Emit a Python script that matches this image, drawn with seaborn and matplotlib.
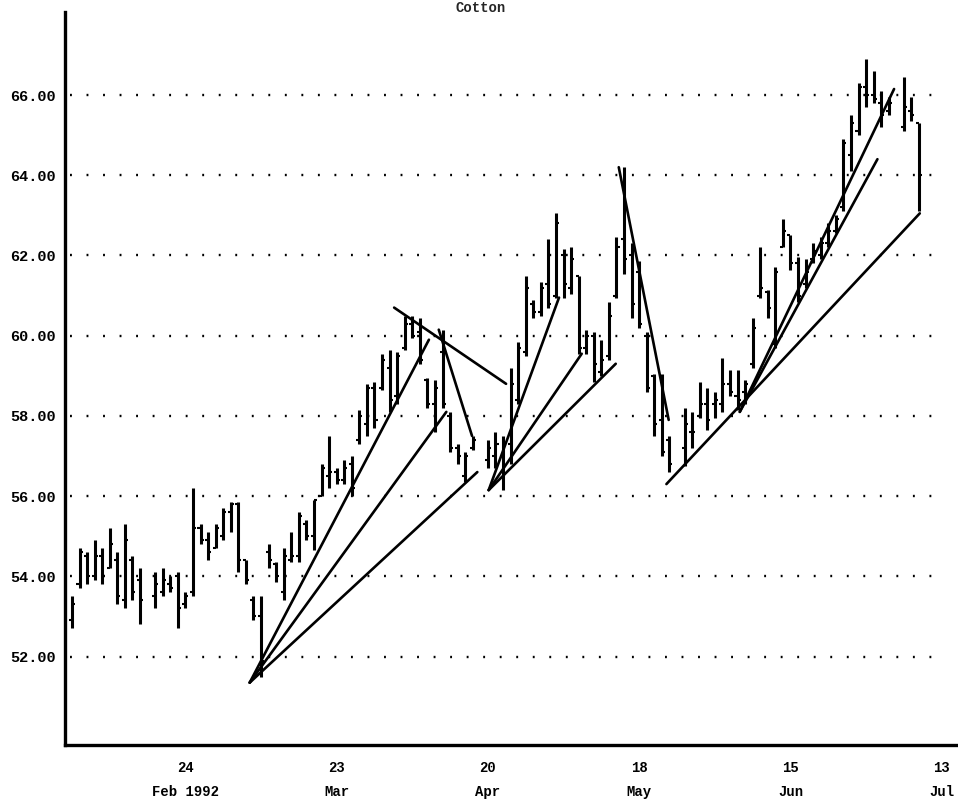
"""
Daily cotton futures bar chart, Feb - Jul 1992, with hand-drawn trend lines.
"""
import matplotlib

matplotlib.use("Agg")
import matplotlib.pyplot as plt
import numpy as np
import pandas as pd
import seaborn as sns

nan = np.nan

# one entry per trading day starting Mon 3 Feb 1992 (nan = exchange closed)
OPEN = [
    52.9, 53.8, 54.5, 54.0, 54.5, 54.2, 54.4, 53.4, 54.4, 53.9,
    nan, 53.5, 53.6, 53.8, 54.0, 53.3, 53.6, 55.2, 54.9, 54.7,
    55.0, 55.6, 55.8, 54.4, 53.4, 53.0, 54.6, 54.3, 53.6, 54.4,
    54.5, 55.3, 55.0, 56.0, 56.5, 56.6, 56.4, 56.8, 57.4, 57.8,
    58.7, 58.7, 59.2, 58.5, 59.7, 60.3, 60.1, 58.9, 58.3, 59.6,
    58.0, 57.2, 56.5, 57.2, nan, 56.9, 57.0, 57.0, 57.3, 58.4,
    59.6, 60.8, 60.6, 61.3, 61.0, 62.0, 61.2, 61.5, 59.7, 60.0,
    59.1, 59.5, 61.0, 62.4, 62.0, 61.6, 60.0, 59.0, 57.9, 57.4,
    nan, 57.2, 57.6, 58.0, 58.3, 58.3, 58.3, 58.8, 58.5, 58.6,
    59.3, 61.0, 61.1, 59.8, 62.2, 62.5, 61.8, 61.3, 61.9, 62.0,
    62.3, 62.6, 63.2, 64.5, 65.1, 66.2, 66.0, 65.8, 65.6, nan,
    65.2, 65.6, 65.3,
]
HIGH = [
    53.5, 54.7, 54.6, 54.9, 54.7, 55.2, 54.6, 55.3, 54.5, 54.2,
    nan, 54.1, 54.2, 54.0, 54.1, 53.6, 56.2, 55.3, 55.1, 55.3,
    55.7, 55.85, 55.85, 54.4, 53.5, 53.5, 54.8, 54.35, 54.7, 55.1,
    55.6, 55.4, 55.9, 56.8, 57.5, 56.7, 56.9, 57.0, 58.15, 58.8,
    58.85, 59.55, 59.65, 59.6, 60.5, 60.5, 60.45, 58.95, 58.9, 60.15,
    58.1, 57.3, 57.1, 57.5, nan, 57.4, 57.6, 57.5, 59.2, 59.85,
    61.5, 60.9, 61.35, 62.4, 63.05, 62.15, 62.2, 61.5, 60.15, 60.1,
    59.9, 60.85, 62.45, 64.2, 62.3, 61.85, 60.1, 59.05, 59.05, 57.5,
    nan, 58.2, 58.1, 58.85, 58.7, 58.6, 59.45, 59.15, 59.15, 58.9,
    60.45, 62.2, 61.15, 61.7, 62.9, 62.5, 61.95, 61.9, 62.3, 62.45,
    62.8, 63.0, 64.9, 65.5, 66.3, 66.9, 66.6, 66.1, 65.95, nan,
    66.45, 65.95, 65.3,
]
LOW = [
    52.7, 53.7, 53.8, 53.9, 53.8, 54.2, 53.3, 53.2, 53.4, 52.8,
    nan, 53.2, 53.5, 53.6, 52.7, 53.2, 53.5, 54.8, 54.4, 54.7,
    54.9, 55.1, 54.1, 53.8, 52.9, 51.5, 54.2, 53.85, 53.4, 54.35,
    54.35, 54.9, 54.65, 56.0, 56.2, 56.3, 56.3, 56.0, 57.3, 57.5,
    57.7, 58.65, 58.1, 58.3, 59.65, 59.95, 59.3, 58.2, 57.6, 58.2,
    57.1, 56.8, 56.35, 57.15, nan, 56.7, 56.7, 56.15, 56.8, 58.3,
    59.5, 60.45, 60.5, 60.7, 60.95, 60.95, 61.05, 59.55, 59.55, 58.85,
    59.0, 59.4, 60.95, 61.55, 60.45, 60.2, 58.6, 57.5, 57.0, 56.6,
    nan, 56.75, 57.2, 57.95, 57.65, 57.95, 58.1, 58.5, 58.15, 58.3,
    59.2, 60.95, 60.45, 59.7, 62.2, 61.65, 60.85, 61.2, 61.8, 61.9,
    62.2, 62.55, 63.1, 64.1, 65.0, 65.7, 65.8, 65.2, 65.5, nan,
    65.1, 65.35, 63.1,
]
CLOSE = [
    53.3, 54.6, 54.0, 54.5, 54.0, 54.8, 53.5, 54.9, 53.6, 53.4,
    nan, 53.8, 53.9, 53.7, 53.2, 53.5, 55.2, 54.9, 54.6, 55.2,
    55.6, 55.8, 54.4, 53.9, 53.0, 51.9, 54.4, 54.0, 54.5, 54.5,
    55.5, 55.0, 55.9, 56.7, 56.6, 56.4, 56.7, 56.2, 58.0, 58.7,
    57.9, 59.4, 58.4, 59.5, 60.3, 60.0, 59.4, 58.3, 58.7, 58.3,
    57.2, 57.0, 57.0, 57.4, nan, 57.2, 57.3, 57.3, 58.8, 59.7,
    61.2, 60.6, 61.2, 60.8, 62.8, 61.3, 61.9, 59.7, 60.0, 59.3,
    59.4, 60.5, 62.2, 61.9, 60.8, 60.3, 58.7, 57.8, 57.1, 56.8,
    nan, 57.8, 57.6, 58.3, 57.9, 58.4, 58.8, 58.6, 58.4, 58.8,
    60.2, 61.2, 60.7, 61.6, 62.6, 61.8, 61.0, 61.6, 62.1, 62.3,
    62.6, 62.9, 64.8, 65.3, 66.2, 66.0, 65.9, 65.5, 65.8, nan,
    65.7, 65.5, 64.0,
]

# trend lines: (start day, start price, end day, end price)
TREND_START_DAY = [23.5, 23.5, 23.5, 42.6, 48.5, 55.1, 55.1, 55.1, 72.3, 78.6, 88.3, 88.3]
TREND_START_PRICE = [51.35, 51.35, 51.35, 60.7, 60.15, 56.15, 56.15, 56.15, 64.2, 56.3, 58.1, 58.1]
TREND_END_DAY = [47.2, 49.5, 53.6, 57.4, 52.9, 64.4, 67.4, 71.9, 78.9, 112.1, 108.7, 106.5]
TREND_END_PRICE = [59.9, 58.1, 56.6, 58.8, 57.5, 60.95, 59.55, 59.3, 57.9, 63.05, 66.15, 64.4]

PRICE_LEVELS = [52, 54, 56, 58, 60, 62, 64, 66]
MINOR_TICK_DAYS = [5, 25, 45, 65, 85, 105]
LABEL_TICK_DAYS = [15, 35, 55, 75, 95, 115]
LABEL_TICK_TEXT = ["24\nFeb 1992", "23\nMar", "20\nApr", "18\nMay", "15\nJun", "13\nJul"]


def main() -> None:
    sns.set_theme(style="white")
    plt.rcParams["font.family"] = ["Liberation Mono", "DejaVu Sans Mono"]
    plt.rcParams["font.weight"] = "bold"

    bars = pd.DataFrame({"open": OPEN, "high": HIGH, "low": LOW, "close": CLOSE})
    bars["day"] = np.arange(len(bars))
    bars = bars.dropna()

    trend = pd.DataFrame(
        {
            "line": list(range(len(TREND_START_DAY))) * 2,
            "day": TREND_START_DAY + TREND_END_DAY,
            "price": TREND_START_PRICE + TREND_END_PRICE,
        }
    )

    fig = plt.figure(figsize=(9.58, 8.0), dpi=100)
    ax = fig.add_axes([0.068, 0.069, 0.93, 0.916])

    # dotted price grid
    ax.hlines(PRICE_LEVELS, -0.3, 114.5, colors="black", linewidth=1.7,
              linestyles=[(0, (0.8, 6.2))])

    # OHLC bars
    tick = 0.4
    ax.vlines(bars["day"], bars["low"], bars["high"], color="black", linewidth=2.2)
    ax.hlines(bars["open"], bars["day"] - tick, bars["day"], color="black", linewidth=1.5)
    ax.hlines(bars["close"], bars["day"], bars["day"] + tick, color="black", linewidth=1.5)

    sns.lineplot(data=trend, x="day", y="price", units="line", estimator=None,
                 color="black", linewidth=1.9, sort=False, ax=ax, legend=False)

    ax.set_xlim(-0.9, 116.9)
    ax.set_ylim(49.8, 68.07)

    ax.set_yticks(PRICE_LEVELS)
    ax.set_yticklabels([f"{v:.2f}" for v in PRICE_LEVELS], fontsize=11, fontweight="bold")
    ax.set_xticks(LABEL_TICK_DAYS)
    ax.set_xticklabels(LABEL_TICK_TEXT, fontsize=10, fontweight="bold", linespacing=1.9)
    ax.set_xticks(MINOR_TICK_DAYS, minor=True)
    ax.tick_params(axis="y", direction="out", length=5, width=1.5, pad=2, colors="black")
    ax.tick_params(axis="x", which="both", direction="in", length=8, width=1.5, pad=12,
                   colors="black")
    ax.set_xlabel("")
    ax.set_ylabel("")

    for side in ("top", "right"):
        ax.spines[side].set_visible(False)
    for side in ("left", "bottom"):
        ax.spines[side].set_linewidth(2.4)
        ax.spines[side].set_color("black")

    fig.text(0.502, 0.999, "Cotton", ha="center", va="top", fontsize=10, fontweight="bold")

    fig.savefig("out.png", dpi=100, facecolor="white")
    plt.close(fig)


if __name__ == "__main__":
    main()
